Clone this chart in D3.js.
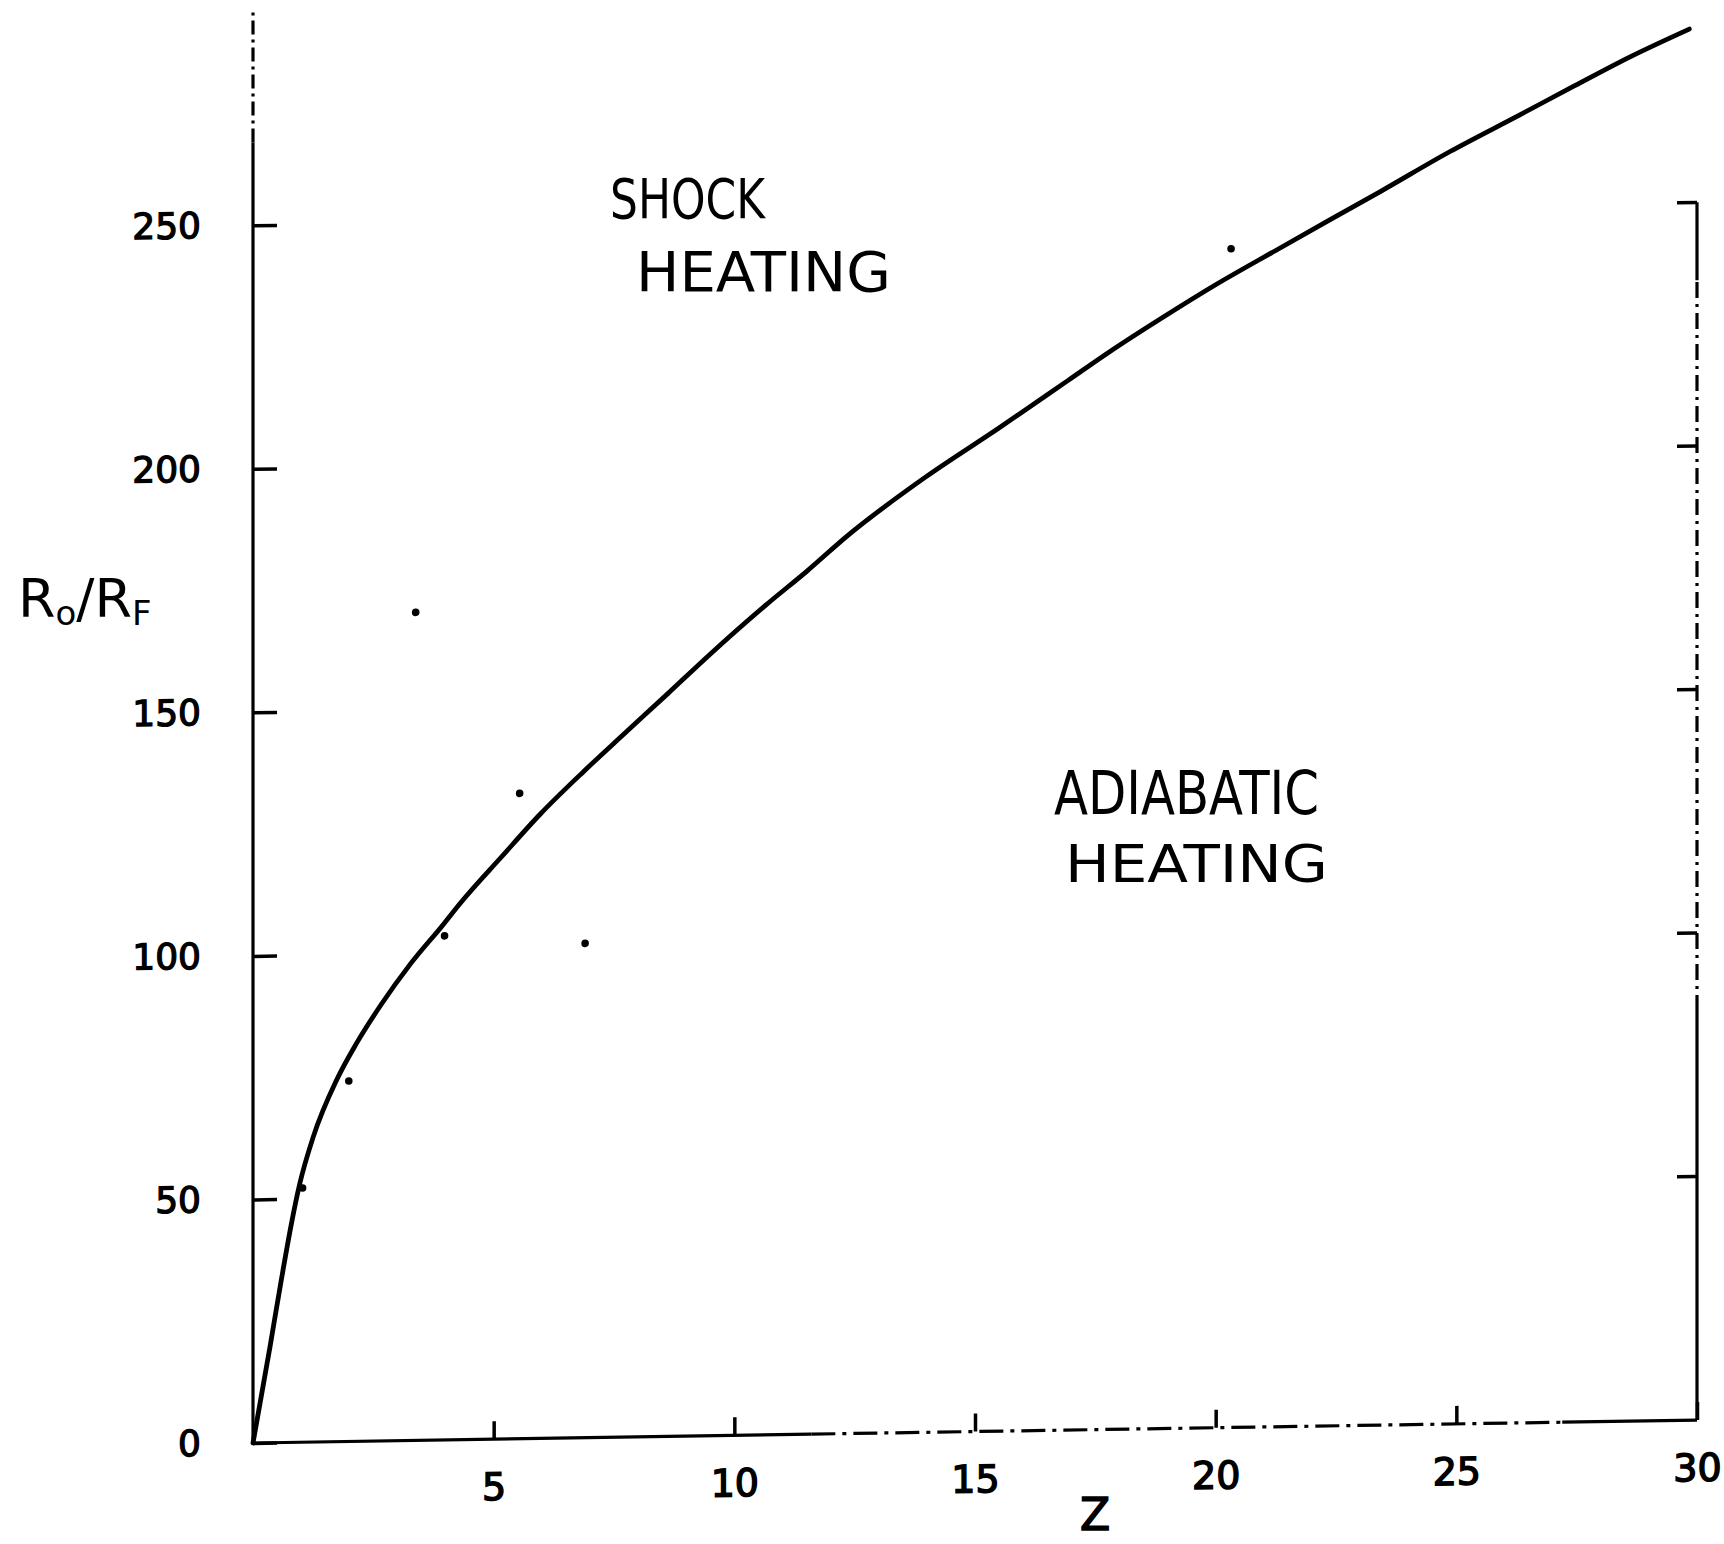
<!DOCTYPE html>
<html>
<head>
<meta charset="utf-8">
<script src="https://cdn.jsdelivr.net/npm/d3@7"></script>
<style>
  html, body { margin: 0; padding: 0; background: #fff; }
  svg { display: block; }
  text { font-family: "DejaVu Sans", sans-serif; fill: #000; }
</style>
</head>
<body>
<div id="chart"></div>
<script>
// Curve: Z against Ro/Rf
const zValues = [0, 0.35, 0.59, 0.8, 0.97, 1.25, 1.74, 2.15, 2.67, 3.26, 3.95, 4.31, 5.16, 5.97, 6.86,
  7.69, 8.63, 9.48, 10.66, 11.51, 12.36, 13.97, 15.49, 16.92, 17.79, 18.93, 19.99, 21.23, 22.37,
  23.43, 24.86, 26.31, 27.45, 28.59, 29.84];
const ratioValues = [0, 19.5, 33.5, 45, 53, 62.6, 74.3, 81.7, 89.7, 97.7, 105.8, 110.2, 119.5, 128.2, 136.7,
  144.2, 152.6, 160.3, 170.4, 177.2, 184.4, 196.1, 205.9, 215.4, 221.2, 228.3, 234.6, 241.4, 247.6,
  253.3, 261.2, 268.5, 274.3, 280.0, 285.6];

// loose points scattered on the sheet
const strayZ = [1.03, 1.99, 3.98, 6.9, 5.54, 3.38, 20.32];
const strayRatio = [52.2, 74, 103.5, 101.5, 132.5, 170, 242];

const xTicks = [5, 10, 15, 20, 25, 30];
const yTicks = [0, 50, 100, 150, 200, 250];
const rightTicks = [50, 100, 150, 200];

// Plot constants
const MARGIN = { LEFT: 253, TOP: 11 };
const WIDTH = 1444;
const HEIGHT = 1432;
const TILT = -0.91; // the sheet is scanned slightly askew

const svg = d3.select("#chart")
  .append("svg")
  .attr("width", 1724)
  .attr("height", 1544);

const g = svg.append("g")
  .attr("transform", "translate(" + MARGIN.LEFT + "," + MARGIN.TOP + ") skewY(" + TILT + ")");

const x = d3.scaleLinear().domain([0, 30]).range([0, WIDTH]);
const y = d3.scaleLinear().domain([0, 294]).range([HEIGHT, 0]);

// axis line helper: solid or dash-dot pieces
function seg(x1, y1, x2, y2, dash) {
  g.append("line")
    .attr("x1", x(x1)).attr("y1", y(y1))
    .attr("x2", x(x2)).attr("y2", y(y2))
    .attr("stroke", "#000")
    .attr("stroke-width", 3.2)
    .attr("stroke-dasharray", dash || null);
}

// Left axis
const yAxisGroup = g.append("g")
  .call(d3.axisLeft(y).tickValues(yTicks).tickSizeInner(-24).tickSizeOuter(0).tickPadding(52));
yAxisGroup.select(".domain").remove();
yAxisGroup.selectAll(".tick line").attr("stroke", "#000").attr("stroke-width", 3.5);
yAxisGroup.selectAll(".tick text")
  .style("font-size", "36px")
  .style("font-family", "DejaVu Sans, sans-serif")
  .attr("stroke", "#000")
  .attr("stroke-width", 1.3);
seg(0, 0, 0, 267);
seg(0, 267, 0, 294, "14 5 3 5");

// Bottom axis
const xAxisGroup = g.append("g")
  .attr("transform", "translate(0," + HEIGHT + ")")
  .call(d3.axisBottom(x).tickValues(xTicks).tickSizeInner(-18).tickSizeOuter(0).tickPadding(34));
xAxisGroup.select(".domain").remove();
xAxisGroup.selectAll(".tick line").attr("stroke", "#000").attr("stroke-width", 3.5);
xAxisGroup.selectAll(".tick text")
  .style("font-size", "38px")
  .style("font-family", "DejaVu Sans, sans-serif")
  .attr("stroke", "#000")
  .attr("stroke-width", 1.5);
seg(0, 0, 11.6, 0);
seg(11.6, 0, 27.2, 0, "24 7 4 7");
seg(27.2, 0, 30, 0);

// Right axis with inward ticks
seg(30, 0, 30, 84);
seg(30, 84, 30, 234, "16 6 3 6");
seg(30, 234, 30, 250);
g.selectAll(".rtick")
  .data(rightTicks.concat([250]))
  .enter().append("line")
  .attr("class", "rtick")
  .attr("x1", x(30) - 20)
  .attr("x2", x(30))
  .attr("y1", (d) => y(d))
  .attr("y2", (d) => y(d))
  .attr("stroke", "#000")
  .attr("stroke-width", 3.5);

// Curve
const line = d3.line()
  .x((d) => x(d[0]))
  .y((d) => y(d[1]))
  .curve(d3.curveMonotoneX);

g.append("path")
  .datum(zValues.map((z, i) => [z, ratioValues[i]]))
  .attr("fill", "none")
  .attr("stroke", "#000")
  .attr("stroke-width", 4.8)
  .attr("stroke-linejoin", "round")
  .attr("stroke-linecap", "round")
  .attr("d", line);

g.selectAll(".stray")
  .data(strayZ.map((z, i) => [z, strayRatio[i]]))
  .enter().append("circle")
  .attr("class", "stray")
  .attr("cx", (d) => x(d[0]))
  .attr("cy", (d) => y(d[1]))
  .attr("r", 3.8)
  .attr("fill", "#000");

// Axis titles
const yTitle = svg.append("text")
  .attr("x", 18)
  .attr("y", 617)
  .style("font-size", "54px");
yTitle.append("tspan").text("R");
yTitle.append("tspan").attr("dy", 8).style("font-size", "34px").text("o");
yTitle.append("tspan").attr("dy", -8).text("/R");
yTitle.append("tspan").attr("dy", 8).style("font-size", "34px").text("F");

svg.append("text")
  .attr("x", 1095)
  .attr("y", 1530)
  .attr("text-anchor", "middle")
  .style("font-size", "44px")
  .attr("stroke", "#000")
  .attr("stroke-width", 1.5)
  .text("Z");

// Region labels
function regionLabel(txt, left, base, size, len) {
  svg.append("text")
    .attr("x", left)
    .attr("y", base)
    .attr("textLength", len)
    .attr("lengthAdjust", "spacingAndGlyphs")
    .style("font-size", size + "px")
    .text(txt);
}
regionLabel("SHOCK", 610, 218, 56, 155);
regionLabel("HEATING", 636, 291, 56, 255);
regionLabel("ADIABATIC", 1054, 814, 60, 265);
regionLabel("HEATING", 1065, 882, 52, 263);
</script>
</body>
</html>
